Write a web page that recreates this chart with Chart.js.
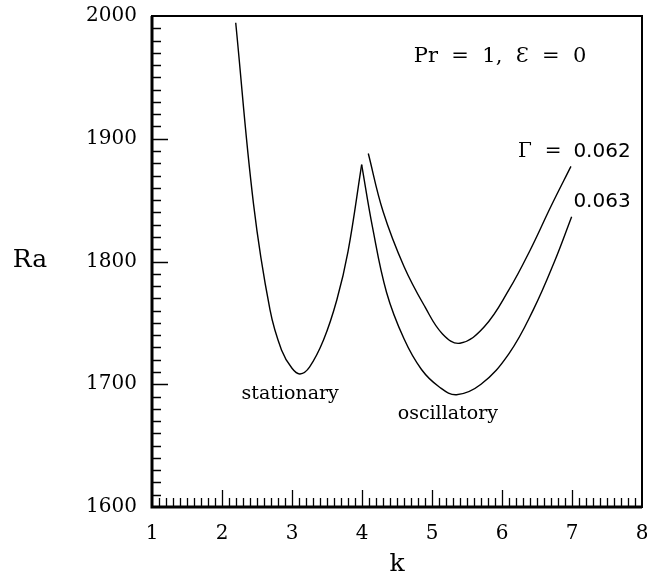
<!DOCTYPE html>
<html>
<head>
<meta charset="utf-8">
<script src="https://cdn.jsdelivr.net/npm/chart.js@4"></script>
<style>
  html, body { margin: 0; padding: 0; background: #fff; }
  #wrap { width: 647px; height: 577px; }
</style>
</head>
<body>
<div id="wrap"><canvas id="c" width="647" height="577"></canvas></div>
<script>
// wavenumber k / Rayleigh number Ra
const statK = [2.196, 2.45, 2.686, 2.85, 3.0, 3.114, 3.25, 3.45, 3.64, 3.8, 3.995];
const statRa = [1994.5, 1847, 1760.5, 1728, 1713, 1708.4, 1714, 1736, 1768.6, 1808, 1879];

const osc063K = [3.995, 4.15, 4.35, 4.6, 4.85, 5.1, 5.35, 5.7, 6.1, 6.45, 6.75, 6.995];
const osc063Ra = [1879, 1828, 1775, 1737, 1712, 1698, 1691.5, 1700, 1725, 1761, 1800, 1836.5];

const osc062K = [4.09, 4.3, 4.6, 4.9, 5.15, 5.4, 5.75, 6.1, 6.4, 6.7, 6.985];
const osc062Ra = [1888, 1841, 1796, 1763, 1741, 1733.4, 1747, 1777, 1809, 1845, 1877.5];

const xTicks = [1, 2, 3, 4, 5, 6, 7, 8];
const yTicks = [1600, 1700, 1800, 1900, 2000];

function pts(xs, ys) { return xs.map((x, i) => ({ x: x, y: ys[i] })); }

function curve(data) {
    return {
        data: data, borderColor: '#000', borderWidth: 1.4, pointRadius: 0,
        tension: 0.4, fill: false
    };
}

// frame, inward ticks and the labels inside the plot
const framePlugin = {
    id: 'frame',
    afterDraw(chart) {
        const ctx = chart.ctx, a = chart.chartArea;
        const xs = chart.scales.x, ys = chart.scales.y;
        ctx.save();
        ctx.strokeStyle = '#000';
        ctx.lineWidth = 2;
        ctx.strokeRect(a.left, a.top, a.right - a.left, a.bottom - a.top);
        ctx.lineWidth = 3;
        ctx.beginPath();
        ctx.moveTo(a.left, a.top); ctx.lineTo(a.left, a.bottom); ctx.lineTo(a.right, a.bottom);
        ctx.stroke();

        ctx.lineWidth = 1.3;
        ctx.beginPath();
        for (let i = 1; i < 70; i++) {
            const px = Math.round(xs.getPixelForValue(1 + i / 10)) + 0.5;
            const len = i % 10 === 0 ? 17 : 9;
            ctx.moveTo(px, a.bottom); ctx.lineTo(px, a.bottom - len);
        }
        for (let v = 1610; v < 2000; v += 10) {
            const py = Math.round(ys.getPixelForValue(v)) + 0.5;
            const len = v % 100 === 0 ? 16 : 9;
            ctx.moveTo(a.left, py); ctx.lineTo(a.left + len, py);
        }
        ctx.stroke();

        ctx.fillStyle = '#000';
        ctx.textBaseline = 'middle';
        ctx.textAlign = 'left';
        ctx.font = '21px "DejaVu Serif"';
        ctx.fillText('Pr  =  1,  \u0190  =  0', xs.getPixelForValue(4.74), ys.getPixelForValue(1967));
        ctx.font = '20px "DejaVu Serif"';
        ctx.fillText('\u0393  =', xs.getPixelForValue(6.23), ys.getPixelForValue(1889));
        ctx.font = '20px "DejaVu Sans"';
        ctx.fillText('0.062', xs.getPixelForValue(7.02), ys.getPixelForValue(1889));
        ctx.fillText('0.063', xs.getPixelForValue(7.02), ys.getPixelForValue(1849));
        ctx.font = '19px "DejaVu Serif"';
        ctx.fillText('stationary', xs.getPixelForValue(2.28), ys.getPixelForValue(1692));
        ctx.fillText('oscillatory', xs.getPixelForValue(4.51), ys.getPixelForValue(1676));

        ctx.textAlign = 'center';
        ctx.font = '25px "DejaVu Serif"';
        ctx.fillText('Ra', 30, ys.getPixelForValue(1801));
        ctx.fillText('k', xs.getPixelForValue(4.5), 564);
        ctx.restore();
    }
};

new Chart(document.getElementById('c'), {
    type: 'line',
    data: {
        datasets: [
            curve(pts(statK, statRa)),
            curve(pts(osc063K, osc063Ra)),
            curve(pts(osc062K, osc062Ra))
        ]
    },
    options: {
        responsive: false, animation: false,
        layout: { padding: { top: 16, right: 5, left: 0, bottom: 0 } },
        plugins: { legend: { display: false }, tooltip: { enabled: false } },
        scales: {
            x: {
                type: 'linear', min: 1, max: 8,
                afterBuildTicks: s => { s.ticks = xTicks.map(v => ({ value: v })); },
                afterFit: s => { s.height = 70; s.paddingLeft = 0; s.paddingRight = 0; },
                grid: { display: false, drawTicks: false }, border: { display: false },
                ticks: { color: '#000', padding: 15, maxRotation: 0, font: { family: 'DejaVu Serif', size: 20 },
                         callback: v => String(v) }
            },
            y: {
                type: 'linear', min: 1600, max: 2000,
                afterBuildTicks: s => { s.ticks = yTicks.map(v => ({ value: v })); },
                afterFit: s => { s.width = 152; s.paddingTop = 0; s.paddingBottom = 0; },
                grid: { display: false, drawTicks: false }, border: { display: false },
                ticks: { color: '#000', padding: 15, font: { family: 'DejaVu Serif', size: 20 },
                         callback: v => String(v) }
            }
        }
    },
    plugins: [framePlugin]
});
</script>
</body>
</html>
